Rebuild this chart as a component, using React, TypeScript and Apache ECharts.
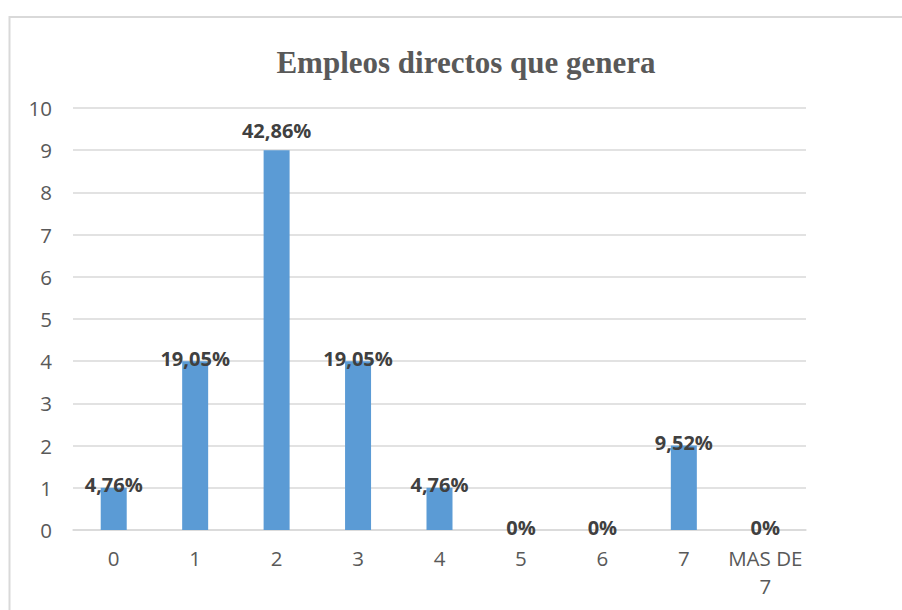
import React, { useEffect, useRef } from "react";
import * as echarts from "echarts";

const TITLE = "Empleos directos que genera";
const categories = ["0", "1", "2", "3", "4", "5", "6", "7", "MAS DE\n7"];
const counts = [1, 4, 9, 4, 1, 0, 0, 2, 0];
const percentLabels = ["4,76%", "19,05%", "42,86%", "19,05%", "4,76%", "0%", "0%", "9,52%", "0%"];
const yTicks = { min: 0, max: 10, interval: 1 };

export default function App() {
  const ref = useRef<HTMLDivElement>(null);
  useEffect(() => {
    const chart = echarts.init(ref.current!, null, { renderer: "svg" });
    const maxVal = Math.max(...counts);
    chart.setOption({
      animation: false,
      backgroundColor: "#ffffff",
      title: {
        text: TITLE,
        left: 461,
        textAlign: "center",
        top: 42,
        textStyle: {
          fontFamily: "Liberation Serif",
          fontWeight: "bold",
          fontSize: 31,
          color: "#595959",
        },
      },
      graphic: [
        {
          type: "rect",
          shape: { x: 9.5, y: 17, width: 1000, height: 1000 },
          style: { fill: "none", stroke: "#d9d9d9", lineWidth: 2 },
          silent: true,
        },
      ],
      grid: { left: 73, right: 96, top: 108, bottom: 80 },
      xAxis: {
        type: "category",
        data: categories,
        axisLine: { show: true, lineStyle: { color: "#d9d9d9", width: 1.5 } },
        axisTick: { show: false },
        axisLabel: {
          color: "#595959",
          fontFamily: "Open Sans",
          fontSize: 20.5,
          margin: 14,
          lineHeight: 28,
          interval: 0,
        },
      },
      yAxis: {
        type: "value",
        min: yTicks.min,
        max: yTicks.max,
        interval: yTicks.interval,
        axisLine: { show: false },
        axisTick: { show: false },
        splitLine: { lineStyle: { color: "#d9d9d9", width: 1.5 } },
        axisLabel: {
          color: "#595959",
          fontFamily: "Open Sans",
          fontSize: 20.5,
          margin: 21,
        },
      },
      series: [
        {
          type: "bar",
          barWidth: 26,
          itemStyle: { color: "#5b9bd5" },
          data: counts.map((v, i) => ({
            value: v,
            label: {
              show: true,
              formatter: percentLabels[i],
              position: "top",
              distance: v === maxVal ? 10 : -7,
              color: "#404040",
              fontFamily: "Open Sans",
              fontWeight: "bold",
              fontSize: 20,
            },
          })),
        },
      ],
    });
    return () => chart.dispose();
  }, []);
  return (
    <div
      ref={ref}
      style={{ position: "fixed", left: 0, top: 0, width: 902, height: 610 }}
    />
  );
}
